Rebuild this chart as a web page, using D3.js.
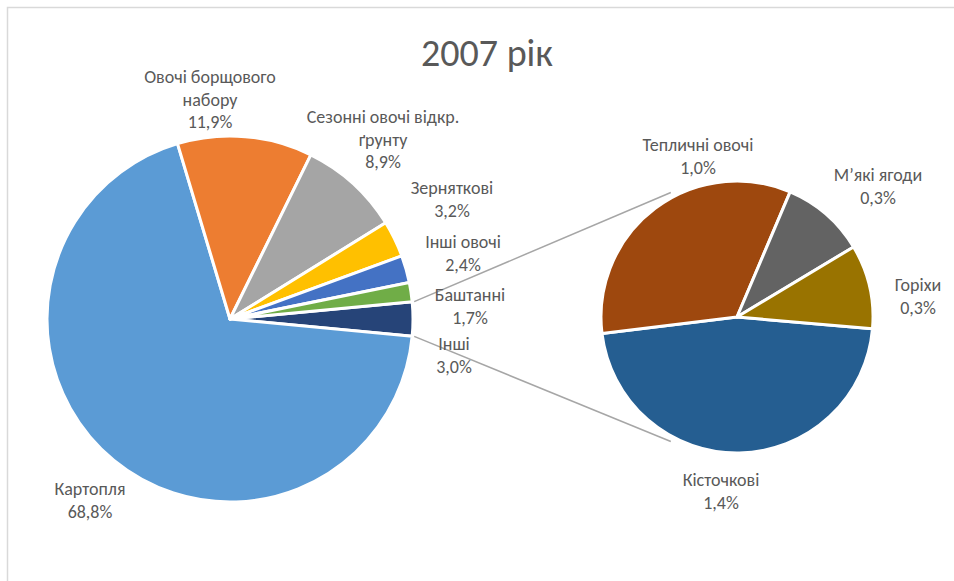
<!DOCTYPE html>
<html>
<head>
<meta charset="utf-8">
<script src="https://cdn.jsdelivr.net/npm/d3@7"></script>
<style>
  html, body { margin: 0; padding: 0; background: #fff; }
  svg { display: block; }
  text { font-family: Calibri, Carlito, Lato, "Liberation Sans", Arial, sans-serif; fill: #595959; }
</style>
</head>
<body>
<svg id="chart" width="954" height="581"></svg>
<script>
// ---- Data ----
const title = "2007 рік";
const mainCategories = ["Інші", "Картопля", "Овочі борщового набору", "Сезонні овочі відкр. ґрунту", "Зерняткові", "Інші овочі", "Баштанні"];
const mainValues = [3.0, 68.8, 11.9, 8.9, 3.2, 2.4, 1.7];
const subCategories = ["Кісточкові", "Тепличні овочі", "М’які ягоди", "Горіхи"];
const subValues = [1.4, 1.0, 0.3, 0.3];

// ---- Styles / layout (not data) ----
const mainColors = ["#264478", "#5B9BD5", "#ED7D31", "#A5A5A5", "#FFC000", "#4472C4", "#70AD47"];
const subColors = ["#255E91", "#9E480E", "#636363", "#997300"];
const mainLabelLines = [["Інші"], ["Картопля"], ["Овочі борщового", "набору"], ["Сезонні овочі відкр.", "ґрунту"], ["Зерняткові"], ["Інші овочі"], ["Баштанні"]];
const mainLabelPos = [[454, 344], [90, 489], [210, 77], [383, 117], [452, 188], [463, 242], [470, 295]];
const subLabelPos = [[721, 480], [698, 145], [878, 175], [918, 285]];
const fmt = v => v.toFixed(1).replace(".", ",") + "%";

const svg = d3.select("#chart");
const W = 954, H = 581;

// frame
svg.append("rect").attr("x", 7.5).attr("y", 7.5).attr("width", W).attr("height", H)
  .attr("fill", "none").attr("stroke", "#D9D9D9").attr("stroke-width", 1.5);

// title
svg.append("text").attr("x", 487).attr("y", 66).attr("text-anchor", "middle")
  .style("font-size", "38px").text(title);

// main pie
const mc = [230, 319], mr = 183;
const mainTotal = d3.sum(mainValues);
const othersAngle = mainValues[0] / mainTotal * 2 * Math.PI;
const mainPie = d3.pie().sort(null).value(d => d)
  .startAngle(Math.PI / 2 - othersAngle / 2)
  .endAngle(Math.PI / 2 - othersAngle / 2 + 2 * Math.PI);
const mainArcs = mainPie(mainValues);
const arcMain = d3.arc().innerRadius(0).outerRadius(mr);
const gMain = svg.append("g").attr("transform", `translate(${mc[0]},${mc[1]})`);
gMain.selectAll("path").data(mainArcs).join("path")
  .attr("d", arcMain).attr("fill", (d, i) => mainColors[i])
  .attr("stroke", "#fff").attr("stroke-width", 3).attr("stroke-linejoin", "round");

// sub pie
const sc = [737, 317], sr = 136;
const subPie = d3.pie().sort(null).value(d => d)
  .startAngle(95 * Math.PI / 180).endAngle(95 * Math.PI / 180 + 2 * Math.PI);
const subArcs = subPie(subValues);
const arcSub = d3.arc().innerRadius(0).outerRadius(sr);
const gSub = svg.append("g").attr("transform", `translate(${sc[0]},${sc[1]})`);
gSub.selectAll("path").data(subArcs).join("path")
  .attr("d", arcSub).attr("fill", (d, i) => subColors[i])
  .attr("stroke", "#fff").attr("stroke-width", 3).attr("stroke-linejoin", "round");

// connector lines
const pt = (c, r, a) => [c[0] + r * Math.sin(a), c[1] - r * Math.cos(a)];
const oa = mainArcs[0];
const connA = [[oa.startAngle, 332 * Math.PI / 180], [oa.endAngle, 208 * Math.PI / 180]];
connA.forEach(([a1, a2]) => {
  const p1 = pt(mc, mr + 2, a1), p2 = pt(sc, sr + 5, a2);
  svg.append("line").attr("x1", p1[0]).attr("y1", p1[1]).attr("x2", p2[0]).attr("y2", p2[1])
    .attr("stroke", "#A6A6A6").attr("stroke-width", 1.5);
});

// labels
function label(lines, pos) {
  const t = svg.append("text").attr("text-anchor", "middle").style("font-size", "18px");
  lines.forEach((s, i) => {
    t.append("tspan").attr("x", pos[0]).attr("y", pos[1] + i * 22.5).attr("dy", "0.35em").text(s);
  });
}
mainValues.forEach((v, i) => label([...mainLabelLines[i], fmt(v)], mainLabelPos[i]));
subValues.forEach((v, i) => label([subCategories[i], fmt(v)], subLabelPos[i]));
</script>
</body>
</html>
